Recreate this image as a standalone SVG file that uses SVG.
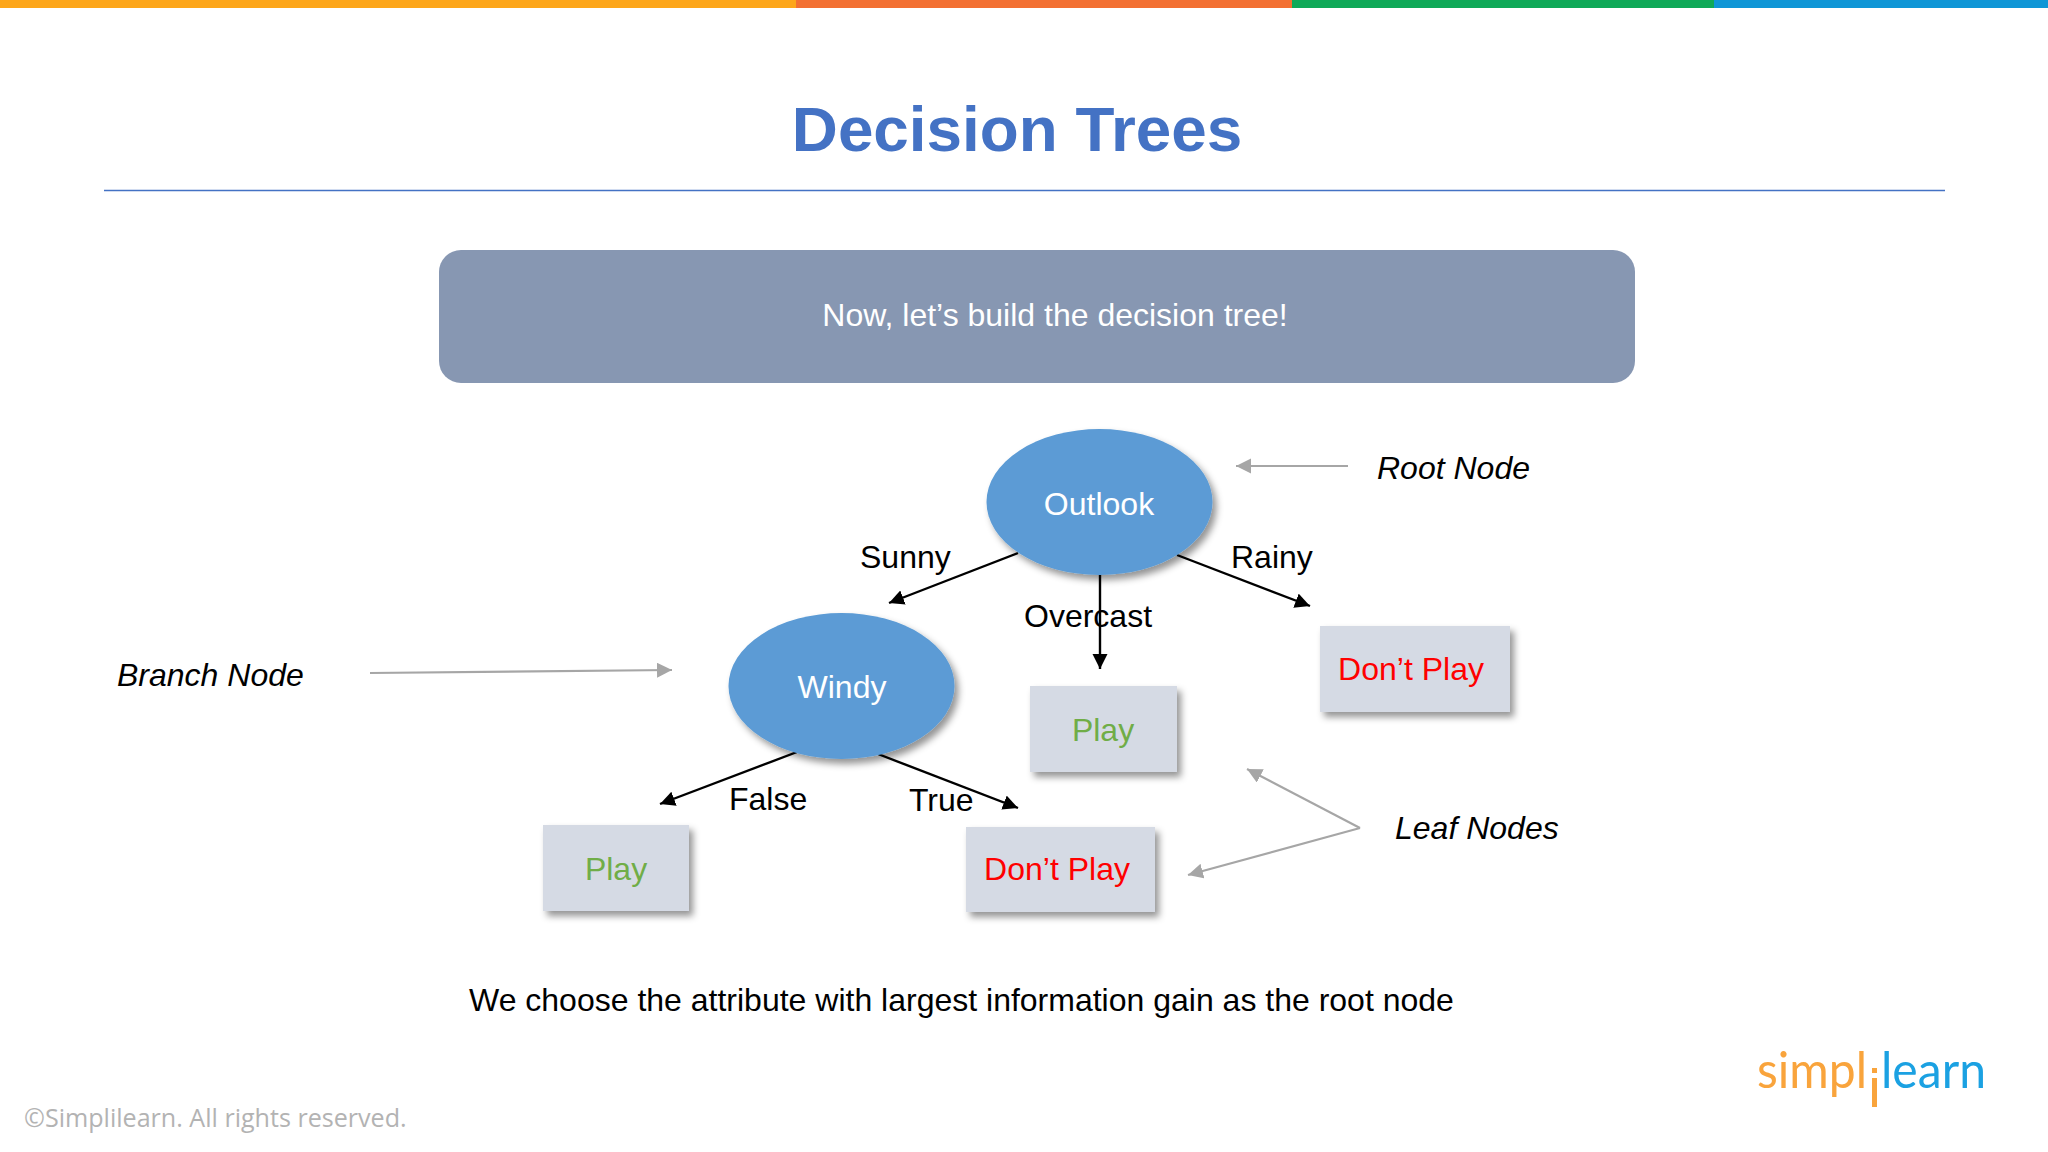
<svg xmlns="http://www.w3.org/2000/svg" width="2048" height="1152" viewBox="0 0 2048 1152">
<style>
text{font-family:"Liberation Sans",Arial,sans-serif}
.lab{font-size:32px;fill:#000}
.it{font-size:32px;fill:#000;font-style:italic}
.w{font-size:32px;fill:#fff;text-anchor:middle}
.box{fill:#D5DAE4}
.ell{fill:#5B9BD5}
.g{font-size:32px;fill:#70AD47;text-anchor:middle}
.r{font-size:32px;fill:#FF0000;text-anchor:middle}
.blk{stroke:#000;stroke-width:2.4;fill:none;marker-end:url(#ab)}
.gry{stroke:#A6A6A6;stroke-width:2.2;fill:none;marker-end:url(#ag)}
</style>
<defs>
<marker id="ab" markerUnits="userSpaceOnUse" markerWidth="17" markerHeight="16" refX="15" refY="7.500" orient="auto"><path d="M0 0L15 7.500L0 15z" fill="#000"/></marker>
<marker id="ag" markerUnits="userSpaceOnUse" markerWidth="17" markerHeight="16" refX="15" refY="7.500" orient="auto"><path d="M0 0L15 7.500L0 15z" fill="#A6A6A6"/></marker>
<filter id="sh" x="-15%" y="-15%" width="135%" height="135%"><feDropShadow dx="4" dy="5" stdDeviation="3.500" flood-color="#000" flood-opacity=".42"/></filter>
</defs>
<rect width="2048" height="1152" fill="#fff"/>
<g id="topbar">
<rect x="0" y="0" width="796" height="8" fill="#FDA61A"/>
<rect x="796" y="0" width="496" height="8" fill="#F37032"/>
<rect x="1292" y="0" width="422" height="8" fill="#0FA958"/>
<rect x="1714" y="0" width="334" height="8" fill="#0F96D6"/>
</g>
<text id="title" x="1017" y="151" font-size="63.800" font-weight="700" fill="#4472C4" text-anchor="middle">Decision Trees</text>
<line x1="104" y1="190.500" x2="1945" y2="190.500" stroke="#4472C4" stroke-width="1.500"/>
<g id="banner"><rect x="439" y="250" width="1196" height="133" rx="22" fill="#8797B2"/>
<text class="w" x="1055" y="326">Now, let’s build the decision tree!</text></g>
<g id="connectors">
<line class="blk" x1="1018" y1="553" x2="889" y2="603"/>
<line class="blk" x1="1177" y1="555" x2="1310" y2="606"/>
<line class="blk" x1="1100" y1="575" x2="1100" y2="669"/>
<line class="blk" x1="797" y1="752" x2="660" y2="804"/>
<line class="blk" x1="878" y1="754" x2="1018" y2="808"/>
<line class="gry" x1="1348" y1="466" x2="1236" y2="466"/>
<line class="gry" x1="370" y1="673" x2="672" y2="670"/>
<line class="gry" x1="1360" y1="828" x2="1247" y2="769"/>
<line class="gry" x1="1360" y1="828" x2="1188" y2="875"/>
</g>
<g id="outlook"><ellipse class="ell" cx="1099.500" cy="502" rx="113" ry="73" filter="url(#sh)"/><text class="w" x="1099" y="515">Outlook</text></g>
<g id="windy"><ellipse class="ell" cx="841.500" cy="686" rx="113" ry="73" filter="url(#sh)"/><text class="w" x="842" y="698">Windy</text></g>
<g id="play1"><rect class="box" x="1030" y="686" width="147" height="86" filter="url(#sh)"/><text class="g" x="1103" y="741">Play</text></g>
<g id="dontplay1"><rect class="box" x="1320" y="626" width="190" height="86" filter="url(#sh)"/><text class="r" x="1411" y="680">Don’t Play</text></g>
<g id="play2"><rect class="box" x="543" y="825" width="146" height="86" filter="url(#sh)"/><text class="g" x="616" y="880">Play</text></g>
<g id="dontplay2"><rect class="box" x="966" y="827" width="189" height="85" filter="url(#sh)"/><text class="r" x="1057" y="880">Don’t Play</text></g>
<g id="labels">
<text class="lab" x="860" y="568">Sunny</text>
<text class="lab" x="1231" y="568">Rainy</text>
<text class="lab" x="1024" y="627">Overcast</text>
<text class="lab" x="729" y="810">False</text>
<text class="lab" x="909" y="811">True</text>
<text class="it" x="1377" y="479">Root Node</text>
<text class="it" x="117" y="686">Branch Node</text>
<text class="it" x="1395" y="839">Leaf Nodes</text>
<text class="lab" x="469" y="1011">We choose the attribute with largest information gain as the root node</text>
</g>
<text id="copyright" x="24" y="1127" font-size="25.100" fill="#B3B3B3" style="font-family:'Open Sans',sans-serif">©Simplilearn. All rights reserved.</text>
<g id="logo">
<text x="1757" y="1088" font-size="50" fill="#F9A43C" textLength="110" lengthAdjust="spacingAndGlyphs" style="font-family:Lato,sans-serif">simpl</text>
<rect x="1872" y="1068" width="5" height="5" fill="#F9A43C"/><rect x="1872" y="1078" width="5" height="29" fill="#F9A43C"/>
<text x="1881" y="1088" font-size="50" fill="#1BA1E2" textLength="105" lengthAdjust="spacingAndGlyphs" style="font-family:Lato,sans-serif">learn</text>
</g>
</svg>
